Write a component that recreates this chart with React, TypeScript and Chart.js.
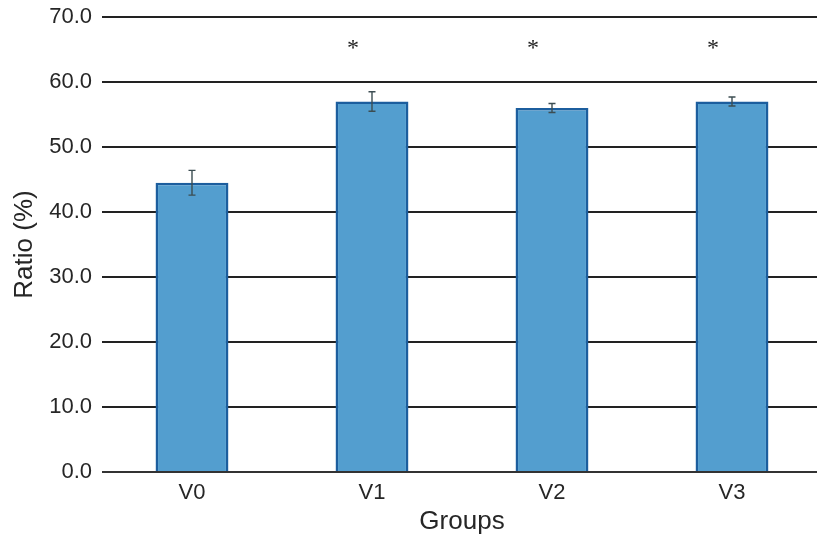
import React, { useEffect, useRef } from "react";
import { Chart, registerables } from "chart.js";

Chart.register(...registerables);

const categories = ["V0", "V1", "V2", "V3"];
const means = [44.5, 57.0, 56.0, 57.0];
const errors = [1.9, 1.5, 0.7, 0.7];
const sigMarks = ["", "*", "*", "*"];
const sigLevel = 65.6;
const yTicks = [0, 10, 20, 30, 40, 50, 60, 70];

const W = 822;
const H = 537;

const overlayPlugin = {
  id: "overlay",
  afterDatasetsDraw(chart: any) {
    const { ctx, chartArea, scales } = chart;
    const x = scales.x;
    const y = scales.y;
    ctx.save();
    ctx.strokeStyle = "#333333";
    ctx.lineWidth = 2;
    ctx.beginPath();
    const y0 = y.getPixelForValue(0);
    ctx.moveTo(chartArea.left, y0);
    ctx.lineTo(chartArea.right, y0);
    ctx.stroke();
    ctx.strokeStyle = "#3c4d52";
    ctx.lineWidth = 1.4;
    means.forEach((m, i) => {
      const cx = x.getPixelForValue(i);
      const top = y.getPixelForValue(m + errors[i]);
      const bot = y.getPixelForValue(m - errors[i]);
      ctx.beginPath();
      ctx.moveTo(cx, top);
      ctx.lineTo(cx, bot);
      ctx.moveTo(cx - 3.5, top);
      ctx.lineTo(cx + 3.5, top);
      ctx.moveTo(cx - 3.5, bot);
      ctx.lineTo(cx + 3.5, bot);
      ctx.stroke();
    });
    ctx.fillStyle = "#222222";
    ctx.font = '24px "Liberation Serif", "DejaVu Serif", serif';
    ctx.textAlign = "center";
    ctx.textBaseline = "middle";
    sigMarks.forEach((s, i) => {
      if (!s) return;
      const cx = x.getPixelForValue(i) - 19;
      ctx.fillText(s, cx, y.getPixelForValue(sigLevel) + 3);
    });
    ctx.restore();
  },
};

export default function App() {
  const ref = useRef<HTMLCanvasElement>(null);
  useEffect(() => {
    if (!ref.current) return;
    const chart = new Chart(ref.current, {
      type: "bar",
      data: {
        labels: categories,
        datasets: [
          {
            data: means,
            backgroundColor: "#539ecf",
            borderColor: "#1c5e9e",
            borderWidth: 2.5,
            barPercentage: 0.405,
            categoryPercentage: 1,
          },
        ],
      },
      options: {
        animation: false,
        responsive: false,
        maintainAspectRatio: false,
        layout: { padding: { top: 17, left: 0, right: 0, bottom: 0 } },
        plugins: { legend: { display: false }, tooltip: { enabled: false } },
        scales: {
          x: {
            grid: { display: false, drawTicks: false },
            border: { display: false },
            ticks: {
              color: "#262626",
              padding: 8,
              font: { family: '"Liberation Sans", Arial, sans-serif', size: 22 },
            },
            title: {
              display: true,
              text: "Groups",
              color: "#262626",
              padding: { top: 0, bottom: 0 },
              font: { family: '"Liberation Sans", Arial, sans-serif', size: 26 },
            },
            afterFit(scale: any) {
              scale.height = 65;
              scale.paddingLeft = 0;
              scale.paddingRight = 0;
            },
          },
          y: {
            min: 0,
            max: 70,
            afterBuildTicks(scale: any) {
              scale.ticks = yTicks.map((v) => ({ value: v }));
            },
            grid: { color: "#222222", lineWidth: 2, drawTicks: false },
            border: { display: false },
            ticks: {
              color: "#262626",
              padding: 10,
              font: { family: '"Liberation Sans", Arial, sans-serif', size: 22 },
              callback: (v: any) => Number(v).toFixed(1),
            },
            title: {
              display: true,
              text: "Ratio (%)",
              color: "#262626",
              padding: { top: 9, bottom: 0 },
              font: { family: '"Liberation Sans", Arial, sans-serif', size: 26 },
            },
            afterFit(scale: any) {
              scale.width = 102;
              scale.paddingTop = 0;
              scale.paddingBottom = 0;
            },
          },
        },
      },
      plugins: [overlayPlugin],
    });
    return () => chart.destroy();
  }, []);
  return (
    <div
      style={{
        position: "fixed",
        left: 0,
        top: 0,
        width: 817,
        height: 537,
        overflow: "hidden",
        background: "#ffffff",
      }}
    >
      <canvas ref={ref} width={W} height={H} style={{ width: W, height: H, display: "block" }} />
    </div>
  );
}
